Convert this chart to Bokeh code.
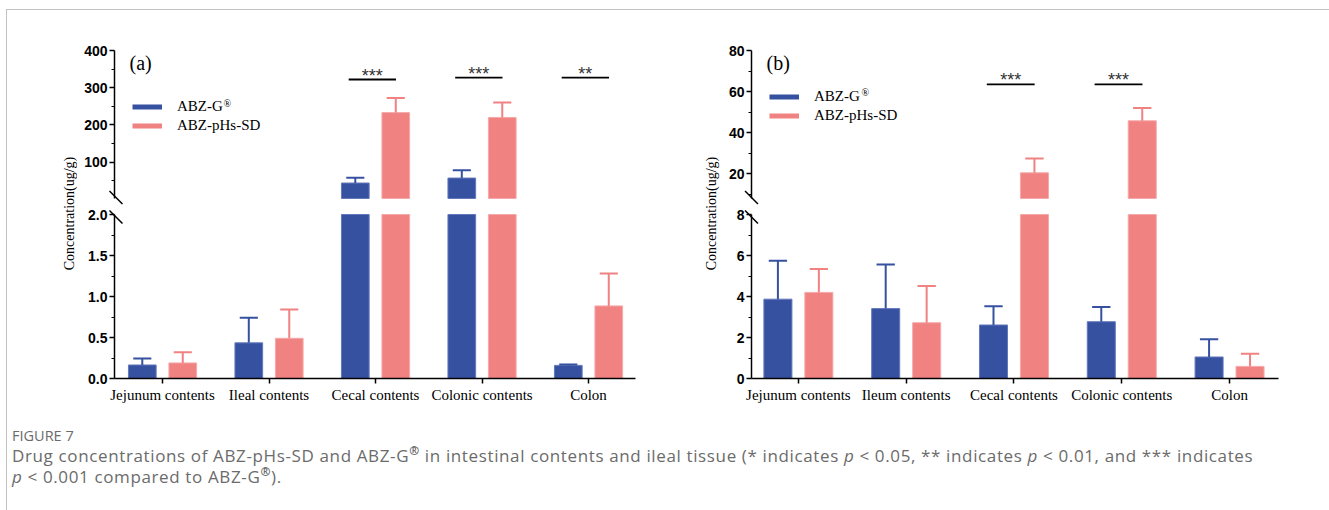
import numpy as np
from bokeh.plotting import figure
from bokeh.models import Range1d, FixedTicker, Label, Legend, LegendItem, Div
from bokeh.layouts import column, row
from bokeh.embed import file_html
from bokeh.resources import INLINE
from bokeh.core.properties import value

# ---------------- data ----------------
categories_a = ["Jejunum contents", "Ileal contents", "Cecal contents", "Colonic contents", "Colon"]
abzg_a = [0.165, 0.435, 43.6, 57.0, 0.16]
abzg_a_sd = [0.08, 0.305, 14.0, 21.0, 0.012]
phs_a = [0.19, 0.49, 233.0, 220.0, 0.885]
phs_a_sd = [0.13, 0.35, 39.0, 40.0, 0.395]
sig_a = ["", "", "***", "***", "**"]
sig_a_h = [0, 0, 322, 327, 327]

categories_b = ["Jejunum contents", "Ileum contents", "Cecal contents", "Colonic contents", "Colon"]
abzg_b = [3.87, 3.41, 2.61, 2.77, 1.05]
abzg_b_sd = [1.87, 2.15, 0.91, 0.72, 0.87]
phs_b = [4.2, 2.72, 20.5, 45.8, 0.59]
phs_b_sd = [1.14, 1.79, 6.9, 6.2, 0.62]
sig_b = ["", "", "***", "***", ""]
sig_b_h = [0, 0, 63.5, 63.5, 0]

series_names = ["ABZ-G", "ABZ-pHs-SD"]
y_title = "Concentration(ug/g)"

# axis ticks
a_break, a_top = 2.0, 400.0
a_up_ticks, a_up_minor = [100, 200, 300, 400], [50, 150, 250, 350]
a_lo_ticks, a_lo_minor = [0, 0.5, 1.0, 1.5, 2.0], [0.25, 0.75, 1.25, 1.75]
b_break, b_top = 8.0, 80.0
b_up_ticks, b_up_minor = [20, 40, 60, 80], [10, 30, 50, 70]
b_lo_ticks, b_lo_minor = [0, 2, 4, 6, 8], [1, 3, 5, 7]

BLUE, BLUE_EDGE = "#3551A0", "#6479BC"
PINK, PINK_EDGE = "#F08282", "#F6A9A9"
SERIF = "Liberation Serif"
SANS = "Liberation Sans"

UP_PX, LO_PX, GAP = 148.0, 164.0, 8.0   # frame pixel heights of each axis segment, half gap
UP_H, LO_H = 196, 212


def style_y(ax):
    ax.axis_line_width = 1.5
    ax.axis_line_color = "black"
    ax.major_tick_line_width = 1.5
    ax.major_tick_line_color = "black"
    ax.minor_tick_line_width = 1.2
    ax.minor_tick_line_color = "black"
    ax.major_tick_in = 0
    ax.major_tick_out = 5
    ax.minor_tick_in = 0
    ax.minor_tick_out = 3
    ax.major_label_text_font = SANS
    ax.major_label_text_font_style = "bold"
    ax.major_label_text_font_size = "14px"
    ax.major_label_text_color = "black"
    ax.major_label_standoff = 2


def make_panel(cats, g, gsd, s, ssd, sig, sig_h, brk, top, up_t, up_m, lo_t, lo_m, lo_fmt,
               x0, x1, tag, title_w, title_x, lb, rb, W, leg_xy, sup_xy, brk_dx):
    x = np.arange(len(cats), dtype=float)
    frame_w = W - lb - rb
    ppx = frame_w / (x1 - x0)         # px per category unit
    up_ppu = UP_PX / (top - brk)
    lo_ppu = LO_PX / brk
    common = dict(width=W, output_backend="svg", toolbar_location=None,
                  min_border_left=lb, min_border_right=rb, background_fill_color="white",
                  border_fill_color="white", outline_line_color=None)
    up = figure(height=UP_H, x_range=Range1d(x0, x1), y_range=Range1d(brk - GAP / up_ppu, top),
                x_axis_location=None, min_border_top=UP_H - int(UP_PX + GAP), min_border_bottom=0, **common)
    lo = figure(height=LO_H, x_range=up.x_range, y_range=Range1d(0, brk + GAP / lo_ppu),
                min_border_top=0, min_border_bottom=LO_H - int(LO_PX + GAP), **common)
    for f in (up, lo):
        f.xgrid.visible = False
        f.ygrid.visible = False
    up.yaxis.ticker = FixedTicker(ticks=up_t, minor_ticks=up_m)
    lo.yaxis.ticker = FixedTicker(ticks=lo_t, minor_ticks=lo_m)
    up.yaxis.bounds = (brk, top)
    lo.yaxis.bounds = (0, brk)
    if lo_fmt:
        lo.yaxis.major_label_overrides = {t: f"{t:.1f}" for t in lo_t}
    style_y(up.yaxis[0])
    style_y(lo.yaxis[0])
    # x axis
    xa = lo.xaxis[0]
    xa.ticker = FixedTicker(ticks=list(range(len(cats))))
    xa.major_label_overrides = {i: c for i, c in enumerate(cats)}
    xa.axis_line_width = 1.5
    xa.axis_line_color = "black"
    xa.major_tick_line_width = 1.5
    xa.major_tick_in = 0
    xa.major_tick_out = 5
    xa.minor_tick_line_color = None
    xa.major_label_text_font = SERIF
    xa.major_label_text_font_size = "15px"
    xa.major_label_text_color = "black"
    xa.major_label_standoff = 3

    # bars + error bars
    for xx, v, sd, c, ce in ((x - 0.19, g, gsd, BLUE, BLUE_EDGE), (x + 0.19, s, ssd, PINK, PINK_EDGE)):
        v = np.asarray(v, dtype=float)
        sd = np.asarray(sd, dtype=float)
        tip = v + sd
        lo.vbar(x=xx, width=0.26, bottom=0, top=np.minimum(v, brk),
                fill_color=c, line_color=ce, line_width=1)
        m = v > brk
        up.vbar(x=xx[m], width=0.26, bottom=brk, top=v[m],
                fill_color=c, line_color=ce, line_width=1)
        for f, mk in ((lo, tip <= brk), (up, tip > brk)):
            f.segment(x0=xx[mk], x1=xx[mk], y0=v[mk], y1=tip[mk], line_color=c, line_width=2)
            f.segment(x0=xx[mk] - 0.085, x1=xx[mk] + 0.085, y0=tip[mk], y1=tip[mk],
                      line_color=c, line_width=2)

    # significance
    sig = np.asarray(sig)
    sh = np.asarray(sig_h, dtype=float)
    mk = sig != ""
    sx = x[mk] - 0.03
    up.segment(x0=sx - 0.222, x1=sx + 0.222, y0=sh[mk], y1=sh[mk], line_color="black", line_width=1.8)
    up.text(x=sx, y=sh[mk], text=list(sig[mk]), text_align="center", text_baseline="alphabetic",
            text_font=value(SANS), text_font_size="18px", text_color="#333333", y_offset=-4)

    # break marks (diagonals crossing the axis at each segment end)
    d = 6.5
    xm = x0 + brk_dx / ppx
    up.segment(x0=[xm - d / ppx], x1=[xm + d / ppx], y0=[brk + (d + 1) / up_ppu], y1=[brk - (d - 1) / up_ppu],
               line_color="black", line_width=1.5, level="overlay")
    lo.segment(x0=[xm - d / ppx], x1=[xm + d / ppx], y0=[brk + (d - 2.5) / lo_ppu], y1=[brk - (d + 2.5) / lo_ppu],
               line_color="black", line_width=1.5, level="overlay")

    # legend
    r1 = up.line(x=[np.nan, np.nan], y=[np.nan, np.nan], line_color=BLUE, line_width=5)
    r2 = up.line(x=[np.nan, np.nan], y=[np.nan, np.nan], line_color=PINK, line_width=5)
    leg = Legend(items=[LegendItem(label=series_names[0], renderers=[r1]),
                        LegendItem(label=series_names[1], renderers=[r2])],
                 location=(leg_xy[0], leg_xy[1] + GAP), glyph_width=30, glyph_height=19,
                 label_height=19, label_standoff=15, spacing=0, padding=0, margin=0,
                 border_line_color=None, background_fill_alpha=0,
                 label_text_font=SERIF, label_text_font_size="15px", label_text_color="black")
    up.add_layout(leg)
    up.add_layout(Label(x=sup_xy[0], y=sup_xy[1] + GAP, x_units="screen", y_units="screen",
                        text="®", text_font=SERIF, text_font_size="10px", text_baseline="middle",
                        text_color="black"))
    up.add_layout(Label(x=15, y=136 + GAP, x_units="screen", y_units="screen", text=tag,
                        text_font=SERIF, text_font_size="20px", text_baseline="middle",
                        text_color="black"))

    # y title in its own narrow figure spanning both segments
    H = UP_H + LO_H
    tf = figure(width=title_w, height=H, x_range=Range1d(0, title_w), y_range=Range1d(0, H),
                x_axis_location=None, y_axis_location=None, output_backend="svg",
                toolbar_location=None, min_border=0, outline_line_color=None,
                background_fill_color="white", border_fill_color="white")
    tf.xgrid.visible = False
    tf.ygrid.visible = False
    tf.text(x=[title_x], y=[H - 203], text=[y_title], angle=np.pi / 2, text_align="center",
            text_baseline="middle", text_font=value(SERIF), text_font_size="14px", text_color="black")
    return row(tf, column(up, lo))


pa = make_panel(categories_a, abzg_a, abzg_a_sd, phs_a, phs_a_sd, sig_a, sig_a_h, a_break, a_top,
                a_up_ticks, a_up_minor, a_lo_ticks, a_lo_minor, True,
                -0.451, 4.441, "(a)", 70, 62, 37, 55, 613, (18, 63), (109, 95), 1.5)
pb = make_panel(categories_b, abzg_b, abzg_b_sd, phs_b, phs_b_sd, sig_b, sig_b_h, b_break, b_top,
                b_up_ticks, b_up_minor, b_lo_ticks, b_lo_minor, False,
                -0.435, 4.454, "(b)", 35, 21, 25, 44, 597, (18, 73.5), (110, 106), 0)

SUP = "<span style=\"position:relative;top:-7px;font-size:12px;font-weight:bold;\">®</span>"
caption_html = (
    "<div style=\"font-family:'Open Sans',sans-serif;color:#6b6b6b;padding-left:0px;white-space:nowrap;\">"
    "<div style=\"font-size:14.5px;line-height:20px;margin-top:3px;\">FIGURE 7</div>"
    "<div style=\"font-size:17px;line-height:19px;letter-spacing:0.63px;\">Drug concentrations of ABZ-pHs-SD and ABZ-G"
    + SUP + " in intestinal contents and ileal tissue (* indicates <i>p</i> &lt; 0.05, ** indicates "
    "<i>p</i> &lt; 0.01, and *** indicates<br><i>p</i> &lt; 0.001 compared to ABZ-G" + SUP + ").</div>"
    "</div>"
)
caption = Div(text=caption_html, width=1315, height=90)

page = column(row(pa, pb), caption, margin=(9, 0, 0, 6),
              styles={"border-top": "1px solid #c2c2c2", "border-left": "1px solid #c2c2c2"})

open("out.html", "w").write(file_html(page, INLINE))
